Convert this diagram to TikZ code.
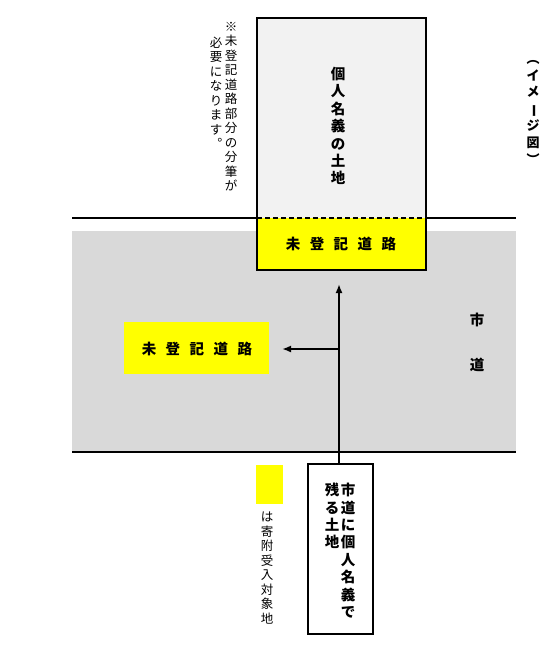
\documentclass[tikz,border=0pt]{standalone}
\usepackage{fontspec}
\setmainfont{Noto Sans CJK JP}
\usetikzlibrary{arrows.meta}
\definecolor{roadgrey}{HTML}{D9D9D9}
\definecolor{landgrey}{HTML}{F2F2F2}
\definecolor{yel}{HTML}{FFFF00}
\newcommand\gp{\hspace{9.5pt}}
\newcommand\vbar{\rotatebox[origin=c]{-90}{ー}}
\tikzset{
  boxline/.style={draw=black, line width=1.6pt},
  yelbox/.style={fill=yel, draw=none, inner sep=0pt},
  vbold/.style={align=center, inner sep=0pt, font=\fontsize{14.5pt}{17.4pt}\selectfont\bfseries},
  vsmall/.style={align=center, inner sep=0pt, font=\fontsize{12.5pt}{14.5pt}\selectfont},
  hbold/.style={inner sep=0pt, font=\fontsize{14.5pt}{16pt}\selectfont\bfseries},
  arr/.style={line width=2.4pt, -{Latex[length=9pt,width=7pt]}},
}
\begin{document}
\begin{tikzpicture}[x=1pt,y=-1pt]
\useasboundingbox (0,0) rectangle (558,653);
% road
\fill[roadgrey] (72,231) rectangle (516,452);
\draw[line width=1.1pt] (72,218) -- (516,218);
\draw[line width=1.1pt] (72,452) -- (516,452);
% private land
\node[fill=landgrey, draw=none, minimum width=169pt, minimum height=200pt, inner sep=0pt] (land) at (341.5,118) {};
\draw[line width=1.6pt] (land.south west) -- (land.north west) -- (land.north east) -- (land.south east);
\node[vbold] (landtxt) at (338,126) {個\\人\\名\\義\\の\\土\\地};
% unregistered road part (top)
\node[yelbox, minimum width=169pt, minimum height=52pt] (topyel) at (341.5,244) {};
\draw[line width=1.6pt] (topyel.north west) -- (topyel.south west) -- (topyel.south east) -- (topyel.north east);
\draw[line width=2pt, dash pattern=on 5pt off 3pt] (topyel.north west) -- (topyel.north east);
\node[hbold] (toptxt) at (341,244) {未\gp 登\gp 記\gp 道\gp 路};
% unregistered road (left)
\node[yelbox, minimum width=145pt, minimum height=52pt] (leftyel) at (196.5,348) {};
\node[hbold] (lefttxt) at (197,349) {未\gp 登\gp 記\gp 道\gp 路};
% city road label
\node[hbold] (shi) at (477,320) {市};
\node[hbold] (michi) at (477,365) {道};
% remaining land box
\node[boxline, fill=white, minimum width=65pt, minimum height=170pt, inner sep=0pt] (remain) at (340.5,549) {};
\node[vbold, anchor=north] (remtxt1) at (348,483) {市\\道\\に\\個\\人\\名\\義\\で};
\node[vbold, anchor=north] (remtxt2) at (332,483) {残\\る\\土\\地};
% arrows
\coordinate (uptip) at (339,284);
\coordinate (branch) at (339,349);
\coordinate (lefttip) at (282,349);
\draw[arr] (remain.north -| uptip) -- (uptip);
\draw[arr] (branch) -- (lefttip);
% legend
\node[yelbox, minimum width=27pt, minimum height=39pt] (legend) at (269.5,484.5) {};
\node[vsmall, anchor=north] (legendtxt) at (267,512) {は\\寄\\附\\受\\入\\対\\象\\地};
% note
\node[vsmall, anchor=north] (note1) at (231,22) {※\\未\\登\\記\\道\\路\\部\\分\\の\\分\\筆\\が};
\node[vsmall, anchor=north] (note2) at (216,36.5) {必\\要\\に\\な\\り\\ま\\す\\︒};
% image label
\node[align=center, inner sep=0pt, font=\fontsize{13pt}{16.8pt}\selectfont\bfseries, anchor=north] (imgtxt) at (533,60) {︵\\イ\\メ\\\vbar\\ジ\\図\\︶};
\end{tikzpicture}
\end{document}
